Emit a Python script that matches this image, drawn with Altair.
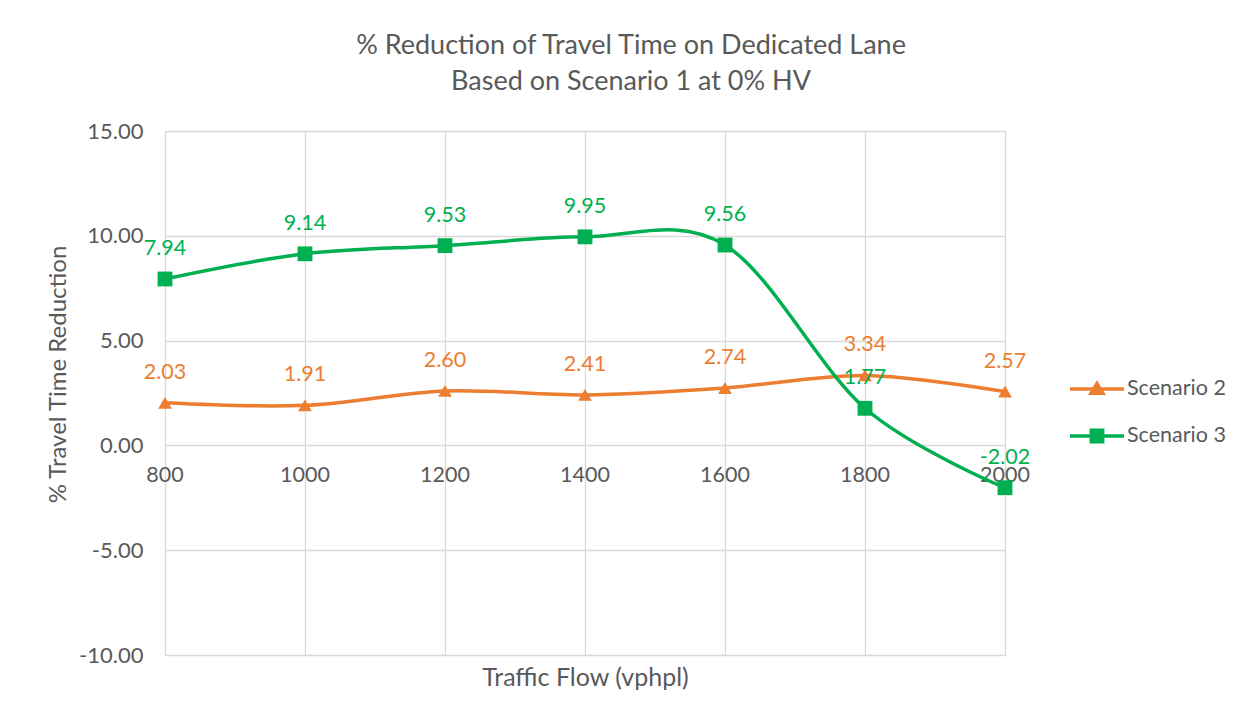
import altair as alt
import pandas as pd

flows = [800, 1000, 1200, 1400, 1600, 1800, 2000]
x_tick_labels = ["800", "1000", "1200", "1400", "1600", "1800", "2000"]
scenario2 = [2.03, 1.91, 2.60, 2.41, 2.74, 3.34, 2.57]
scenario3 = [7.94, 9.14, 9.53, 9.95, 9.56, 1.77, -2.02]
series_names = ["Scenario 2", "Scenario 3"]
series_colors = ["#ED7D31", "#00B050"]
y_ticks = [-10, -5, 0, 5, 10, 15]
title_lines = ["% Reduction of Travel Time on Dedicated Lane", "Based on Scenario 1 at 0% HV"]
x_title = "Traffic Flow (vphpl)"
y_title = "% Travel Time  Reduction"

rows = []
for name, vals in zip(series_names, [scenario2, scenario3]):
    for f, v in zip(flows, vals):
        rows.append({"flow": f, "value": v, "series": name, "label": f"{v:.2f}"})
df = pd.DataFrame(rows)
tick_df = pd.DataFrame({"flow": flows, "label": x_tick_labels, "zero": [0] * len(flows)})

FONT = "Lato"
GREY = "#595959"
GRID = "#D9D9D9"

color_scale = alt.Scale(domain=series_names, range=series_colors)

x_enc = alt.X(
    "flow:Q",
    scale=alt.Scale(domain=[800, 2000], nice=False, zero=False),
    axis=alt.Axis(
        values=flows, labels=False, ticks=False, domain=False, grid=True,
        gridColor=GRID, gridWidth=1.3, title=x_title, titleFont=FONT,
        titleFontSize=25, titleFontWeight="normal", titleColor=GREY,
        titleY=22, titleBaseline="middle",
    ),
)
y_enc = alt.Y(
    "value:Q",
    scale=alt.Scale(domain=[-10, 15], nice=False, zero=False),
    axis=alt.Axis(
        values=y_ticks, format=".2f", labelExpr="replace(datum.label, '\u2212', '-')",
        ticks=False, domain=False, grid=True,
        gridColor=GRID, gridWidth=1.3, labelFont=FONT, labelFontSize=22,
        labelColor=GREY, labelPadding=22, title=y_title, titleFont=FONT,
        titleFontSize=24, titleFontWeight="normal", titleColor=GREY,
        titleX=-107, titleY=243, titleAngle=270, titleBaseline="middle",
        titleAlign="center",
    ),
)

base = alt.Chart(df)

lines = base.mark_line(interpolate="cardinal", strokeWidth=3.5).encode(
    x=x_enc, y=y_enc,
    color=alt.Color("series:N", scale=color_scale, legend=None),
)

tri = base.transform_filter(alt.datum.series == "Scenario 2").mark_point(
    shape="triangle-up", filled=True, opacity=1, size=190
).encode(x="flow:Q", y="value:Q", color=alt.Color("series:N", scale=color_scale, legend=None))

sq = base.transform_filter(alt.datum.series == "Scenario 3").mark_point(
    shape="square", filled=True, opacity=1, size=220
).encode(x="flow:Q", y="value:Q", color=alt.Color("series:N", scale=color_scale, legend=None))

labels = base.mark_text(dy=-24, baseline="alphabetic", fontSize=21.5, font=FONT).encode(
    x="flow:Q", y="value:Q", text="label:N",
    color=alt.Color("series:N", scale=color_scale, legend=None),
)

xlabels = alt.Chart(tick_df).mark_text(
    dy=31, baseline="middle", fontSize=21.5, font=FONT, color=GREY
).encode(x="flow:Q", y="zero:Q", text="label:N")

legend_paths = [
    "M-1,0L1,0M0,-0.2L0.22,0.16L-0.22,0.16Z",
    "M-1,0L1,0M-0.21,-0.21L0.21,-0.21L0.21,0.21L-0.21,0.21Z",
]
leg = alt.Legend(
    title=None, orient="none", legendX=903, legendY=229, padding=0,
    labelFont=FONT, labelFontSize=21.5, labelColor=GREY, labelOffset=1,
    symbolSize=2916, symbolStrokeWidth=3.5, symbolOpacity=1, rowPadding=6,
)
legend_layer = base.mark_point(filled=True, opacity=0, strokeWidth=3.5, size=2916).encode(
    x="flow:Q", y="value:Q",
    color=alt.Color("series:N", scale=color_scale, legend=leg),
    stroke=alt.Stroke("series:N", scale=color_scale, legend=leg),
    shape=alt.Shape("series:N", scale=alt.Scale(domain=series_names, range=legend_paths), legend=leg),
)

chart = alt.layer(xlabels, lines, tri, sq, labels, legend_layer).resolve_scale(
    color="independent", stroke="independent", shape="independent"
).properties(
    width=840, height=524,
    autosize=alt.AutoSizeParams(type="none"),
    padding={"left": 157, "top": 123, "right": 240, "bottom": 58},
    title=alt.TitleParams(
        text=title_lines, anchor="middle", dx=46, offset=24, font=FONT,
        fontSize=27, fontWeight="normal", color=GREY, lineHeight=36,
    ),
).configure_view(stroke=None).configure(background="white")

chart.save("out.html", embed_options={"renderer": "svg", "actions": False})
